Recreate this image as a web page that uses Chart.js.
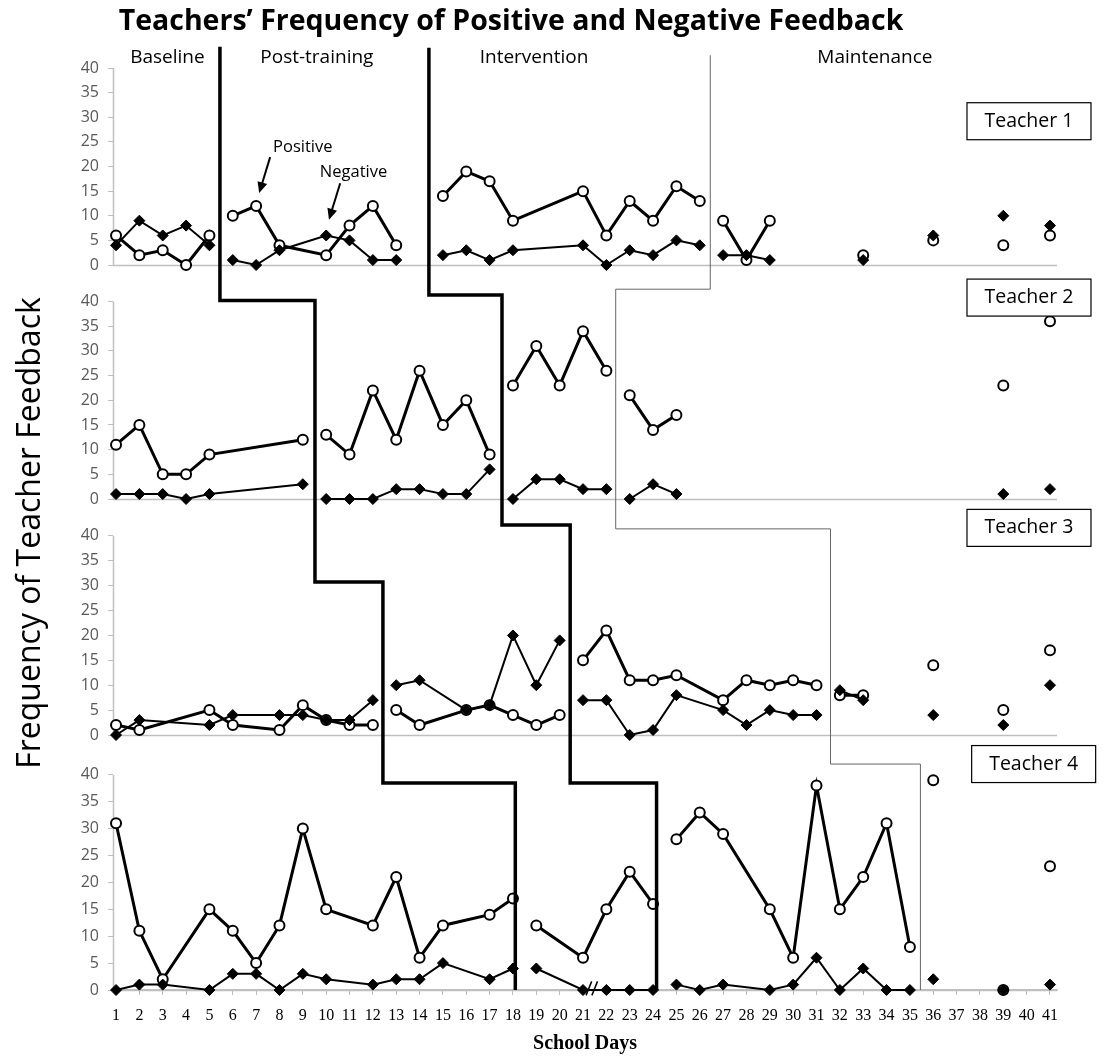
<!DOCTYPE html>
<html>
<head>
<meta charset="utf-8">
<script src="https://cdn.jsdelivr.net/npm/chart.js@4.4.0/dist/chart.umd.min.js"></script>
<style>
  html, body { margin: 0; padding: 0; background: #fff; }
  #wrap { position: relative; width: 1104px; height: 1061px; }
</style>
</head>
<body>
<div id="wrap"><canvas id="feedbackChart" width="1104" height="1061"></canvas></div>
<script>
const n = null;
const days = [1, 2, 3, 4, 5, 6, 7, 8, 9, 10, 11, 12, 13, 14, 15, 16, 17, 18, 19, 20,
  21, 22, 23, 24, 25, 26, 27, 28, 29, 30, 31, 32, 33, 34, 35, 36, 37, 38, 39, 40, 41];
const yTicks = [0, 5, 10, 15, 20, 25, 30, 35, 40];
const phaseNames = ["Baseline", "Post-training", "Intervention", "Maintenance"];
const teacherNames = ["Teacher 1", "Teacher 2", "Teacher 3", "Teacher 4"];

// values per school day (index 0 = day 1), null = no session
// teacher 1
const t1Runs = [1, 6, 15, 27, 33, 36, 39, 41];
const t1Pos = [6, 2, 3, 0, 6, 10, 12, 4, n, 2, 8, 12, 4, n, 14, 19, 17, 9, n, n,
  15, 6, 13, 9, 16, 13, 9, 1, 9, n, n, n, 2, n, n, 5, n, n, 4, n, 6];
const t1Neg = [4, 9, 6, 8, 4, 1, 0, 3, n, 6, 5, 1, 1, n, 2, 3, 1, 3, n, n,
  4, 0, 3, 2, 5, 4, 2, 2, 1, n, n, n, 1, n, n, 6, n, n, 10, n, 8];
// teacher 2
const t2Runs = [1, 10, 18, 23, 39, 41];
const t2Pos = [11, 15, 5, 5, 9, n, n, n, 12, 13, 9, 22, 12, 26, 15, 20, 9, 23, 31, 23,
  34, 26, 21, 14, 17, n, n, n, n, n, n, n, n, n, n, n, n, n, 23, n, 36];
const t2Neg = [1, 1, 1, 0, 1, n, n, n, 3, 0, 0, 0, 2, 2, 1, 1, 6, 0, 4, 4,
  2, 2, 0, 3, 1, n, n, n, n, n, n, n, n, n, n, n, n, n, 1, n, 2];
// teacher 3
const t3Runs = [1, 13, 21, 32, 36, 39, 41];
const t3Pos = [2, 1, n, n, 5, 2, n, 1, 6, 3, 2, 2, 5, 2, n, 5, 6, 4, 2, 4,
  15, 21, 11, 11, 12, n, 7, 11, 10, 11, 10, 8, 8, n, n, 14, n, n, 5, n, 17];
const t3Neg = [0, 3, n, n, 2, 4, n, 4, 4, 3, 3, 7, 10, 11, n, 5, 6, 20, 10, 19,
  7, 7, 0, 1, 8, n, 5, 2, 5, 4, 4, 9, 7, n, n, 4, n, n, 2, n, 10];
// teacher 4
const t4Runs = [1, 19, 25, 36, 39, 41];
const t4Pos = [31, 11, 2, n, 15, 11, 5, 12, 30, 15, n, 12, 21, 6, 12, n, 14, 17, 12, n,
  6, 15, 22, 16, 28, 33, 29, n, 15, 6, 38, 15, 21, 31, 8, 39, n, n, 0, n, 23];
const t4Neg = [0, 1, 1, n, 0, 3, 3, 0, 3, 2, n, 1, 2, 2, 5, n, 2, 4, 4, n,
  0, 0, 0, 0, 1, 0, 1, n, 0, 1, 6, 0, 4, 0, 0, 2, n, n, 0, n, 1];

// phase change lines: [day, panel axis, value]
const lineA = [[5.45, "y1", 44.3], [5.45, "y2", 40.2], [9.52, "y2", 40.2], [9.52, "y3", 30.75],
  [12.43, "y3", 30.75], [12.43, "y4", 38.5], [18.1, "y4", 38.5], [18.1, "y4", 0]];
const lineB = [[14.4, "y1", 44.1], [14.4, "y2", 41.3], [17.53, "y2", 41.3], [17.53, "y3", 42.2],
  [20.45, "y3", 42.2], [20.45, "y4", 38.5], [24.15, "y4", 38.5], [24.15, "y4", 0]];
const lineC = [[26.45, "y1", 42.6], [26.45, "y2", 42.5], [22.4, "y2", 42.5], [22.4, "y3", 41.4],
  [31.6, "y3", 41.4], [31.6, "y4", 42], [35.45, "y4", 42], [35.45, "y4", 0]];
const phaseLabelDays = [3.2, 9.6, 18.9, 33.5];
const boxCenters = [[40.1, "y1", 29.2], [40.1, "y2", 40.8], [40.1, "y3", 41.6], [40.3, "y4", 42]];
// "Positive" / "Negative" callouts in the teacher 1 panel: text pos, arrow from, arrow tip
const callouts = [
  { text: "Positive", at: [9.0, 24.0], from: [7.6, 21.9], to: [7.13, 14.6] },
  { text: "Negative", at: [11.17, 18.9], from: [10.6, 16.6], to: [10.12, 9.2] },
];

// build {x,y} points, a null point breaks the line between phases
function toPoints(values, runs) {
  const pts = [];
  let prevDay = null;
  values.forEach((v, i) => {
    if (v === null) return;
    const day = days[i];
    if (prevDay !== null && runs.some((r) => r > prevDay && r <= day)) {
      pts.push({ x: day - 0.5, y: null });
    }
    pts.push({ x: day, y: v });
    prevDay = day;
  });
  return pts;
}

function series(values, runs, axis, positive) {
  return {
    data: toPoints(values, runs),
    xAxisID: "x",
    yAxisID: axis,
    borderColor: "#000",
    borderWidth: positive ? 3 : 2,
    pointStyle: positive ? "circle" : "rectRot",
    pointRadius: positive ? 5 : 5.5,
    pointBorderWidth: positive ? 2 : 1,
    pointBackgroundColor: positive ? "#fff" : "#000",
    pointBorderColor: "#000",
    spanGaps: false,
    tension: 0,
    clip: false,
    order: positive ? 1 : 0,
  };
}

const datasets = [
  series(t1Pos, t1Runs, "y1", true), series(t1Neg, t1Runs, "y1", false),
  series(t2Pos, t2Runs, "y2", true), series(t2Neg, t2Runs, "y2", false),
  series(t3Pos, t3Runs, "y3", true), series(t3Neg, t3Runs, "y3", false),
  series(t4Pos, t4Runs, "y4", true), series(t4Neg, t4Runs, "y4", false),
];

function panelAxis(weight) {
  return {
    type: "linear",
    position: "left",
    stack: "teachers",
    stackWeight: weight,
    min: 0,
    max: 47.4,
    afterBuildTicks: (s) => { s.ticks = yTicks.map((v) => ({ value: v })); },
    afterFit: (s) => { s.width = 113; },
    ticks: { autoSkip: false, color: "#595959", padding: 9, font: { family: "Open Sans", size: 16 } },
    grid: { drawOnChartArea: false, tickLength: 5, color: "#bfbfbf" },
    border: { display: false },
  };
}

const panelIds = ["y1", "y2", "y3", "y4"];

// zero lines, axis lines, phase lines, labels
const overlay = {
  id: "overlay",
  beforeDatasetsDraw(chart) {
    const { ctx, chartArea, scales } = chart;
    ctx.save();
    ctx.strokeStyle = "#bfbfbf";
    ctx.lineWidth = 1.5;
    panelIds.forEach((id) => {
      const y0 = Math.round(scales[id].getPixelForValue(0)) + 0.5;
      const y40 = scales[id].getPixelForValue(40);
      ctx.beginPath();
      ctx.moveTo(chartArea.left, y0);
      ctx.lineTo(chartArea.right, y0);
      ctx.moveTo(chartArea.left + 0.5, y40);
      ctx.lineTo(chartArea.left + 0.5, y0);
      ctx.stroke();
    });
    ctx.restore();
  },
  afterDatasetsDraw(chart) {
    const { ctx, scales } = chart;
    const px = (p) => [scales.x.getPixelForValue(p[0]), scales[p[1]].getPixelForValue(p[2])];
    const drawStep = (pts, width, color) => {
      ctx.beginPath();
      pts.forEach((p, i) => {
        const [x, y] = px(p);
        if (i === 0) ctx.moveTo(x, y);
        else ctx.lineTo(x, y);
      });
      ctx.lineWidth = width;
      ctx.strokeStyle = color;
      ctx.lineJoin = "miter";
      ctx.stroke();
    };
    ctx.save();
    drawStep(lineA, 3.5, "#000");
    drawStep(lineB, 3.5, "#000");
    drawStep(lineC, 1, "#666");

    // axis break mark near day 21
    ctx.lineWidth = 1.5;
    ctx.strokeStyle = "#000";
    [21.25, 21.5].forEach((d) => {
      const [x1, y1] = px([d - 0.12, "y4", -1]);
      const [x2, y2] = px([d + 0.12, "y4", 1.6]);
      ctx.beginPath();
      ctx.moveTo(x1, y1);
      ctx.lineTo(x2, y2);
      ctx.stroke();
    });

    ctx.fillStyle = "#000";
    ctx.textAlign = "center";
    ctx.textBaseline = "middle";

    // callout arrows
    ctx.font = "16.5px 'Open Sans'";
    callouts.forEach((c) => {
      const [tx, ty] = px([c.at[0], "y1", c.at[1]]);
      ctx.fillText(c.text, tx, ty);
      const [x1, y1] = px([c.from[0], "y1", c.from[1]]);
      const [x2, y2] = px([c.to[0], "y1", c.to[1]]);
      const ang = Math.atan2(y2 - y1, x2 - x1);
      ctx.lineWidth = 2;
      ctx.beginPath();
      ctx.moveTo(x1, y1);
      ctx.lineTo(x2 - 8 * Math.cos(ang), y2 - 8 * Math.sin(ang));
      ctx.stroke();
      ctx.beginPath();
      ctx.moveTo(x2, y2);
      ctx.lineTo(x2 - 11 * Math.cos(ang) + 5 * Math.sin(ang), y2 - 11 * Math.sin(ang) - 5 * Math.cos(ang));
      ctx.lineTo(x2 - 11 * Math.cos(ang) - 5 * Math.sin(ang), y2 - 11 * Math.sin(ang) + 5 * Math.cos(ang));
      ctx.closePath();
      ctx.fill();
    });

    // phase names
    ctx.font = "19px 'Open Sans'";
    phaseNames.forEach((name, i) => {
      const [x, y] = px([phaseLabelDays[i], "y1", 42.2]);
      ctx.fillText(name, x, y);
    });

    // teacher boxes
    ctx.font = "19.5px 'Open Sans'";
    teacherNames.forEach((name, i) => {
      const [x, y] = px(boxCenters[i]);
      ctx.fillStyle = "#fff";
      ctx.fillRect(x - 62, y - 18.5, 124, 37);
      ctx.strokeStyle = "#000";
      ctx.lineWidth = 1.2;
      ctx.strokeRect(x - 62, y - 18.5, 124, 37);
      ctx.fillStyle = "#000";
      ctx.fillText(name, x, y);
    });

    // main title and y title
    ctx.font = "bold 28.5px 'Open Sans'";
    ctx.fillText("Teachers\u2019 Frequency of Positive and Negative Feedback", 511, 22);
    ctx.save();
    ctx.translate(31, 533);
    ctx.rotate(-Math.PI / 2);
    ctx.font = "32px 'Open Sans'";
    ctx.fillText("Frequency of Teacher Feedback", 0, 0);
    ctx.restore();
    ctx.restore();
  },
};

new Chart(document.getElementById("feedbackChart"), {
  type: "line",
  data: { datasets },
  options: {
    responsive: false,
    animation: false,
    layout: { padding: { top: 31.6, right: 47, left: 0, bottom: 0 } },
    plugins: { legend: { display: false }, tooltip: { enabled: false }, title: { display: false } },
    scales: {
      x: {
        type: "linear",
        min: 0.87,
        max: 41.3,
        afterBuildTicks: (s) => { s.ticks = days.map((d) => ({ value: d })); },
        afterFit: (s) => { s.height = 71; },
        ticks: { autoSkip: false, maxRotation: 0, padding: 11, color: "#000",
          font: { family: "Liberation Serif", size: 16 } },
        grid: { drawOnChartArea: false, tickLength: 5, color: "#bfbfbf" },
        border: { color: "#bfbfbf", width: 1.5 },
        title: { display: true, text: "School Days", color: "#000",
          font: { family: "Liberation Serif", size: 20, weight: "bold" },
          padding: { top: 0, bottom: 5 } },
      },
      y4: panelAxis(255),
      y3: panelAxis(236),
      y2: panelAxis(234),
      y1: panelAxis(233.4),
    },
  },
  plugins: [overlay],
});
</script>
</body>
</html>
